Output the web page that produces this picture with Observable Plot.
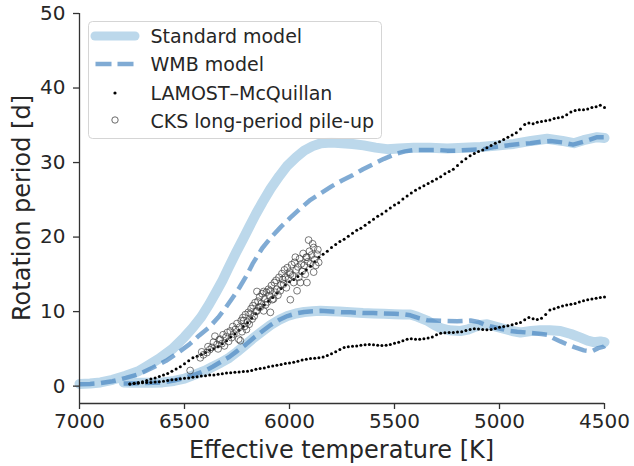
<!DOCTYPE html>
<html><head><meta charset="utf-8">
<script src="https://cdn.jsdelivr.net/npm/d3@7"></script>
<script src="https://cdn.jsdelivr.net/npm/@observablehq/plot@0.6"></script>
<style>html,body{margin:0;padding:0;background:#fff}</style>
</head><body><div id="chart"></div>
<script>
const xTicks = [7000, 6500, 6000, 5500, 5000, 4500];
const yTicks = [0, 10, 20, 30, 40, 50];

const stdUpperTeff = [7000,6950,6900,6843,6780,6720,6684,6620,6557,6500,6462,6420,6382,6350,6319,6290,6255,6220,6191,6160,6128,6090,6048,6010,5969,5930,5890,5850,5800,5750,5700,5647,5590,5535,5480,5409,5330,5249,5170,5091,5010,4932,4850,4773,4700,4646,4600,4535,4500];
const stdUpperP = [0.3,0.35,0.5,0.85,1.4,2.0,2.6,3.7,5.0,6.6,7.8,9.3,11.0,12.6,14.2,15.9,17.9,19.8,21.4,23.1,24.7,26.5,28.2,29.6,30.7,31.6,32.2,32.6,32.7,32.6,32.5,32.3,32.0,31.8,31.9,32.0,32.0,31.9,32.0,32.1,32.3,32.5,32.9,33.2,32.9,32.6,33.0,33.4,33.3];

const wmbUpperTeff = [7000,6950,6900,6843,6780,6716,6650,6588,6530,6477,6430,6382,6340,6302,6270,6239,6205,6176,6130,6090,6040,5996,5950,5900,5850,5800,5750,5700,5650,5600,5550,5500,5450,5400,5350,5297,5250,5202,5150,5075,5020,4964,4900,4853,4800,4757,4700,4650,4600,4535,4500];
const wmbUpperP = [0.25,0.3,0.4,0.65,1.1,1.6,2.5,3.4,4.5,5.6,6.8,7.9,9.2,10.6,11.9,13.2,14.8,16.4,18.5,19.9,21.4,22.6,23.8,25.0,25.9,26.8,27.6,28.3,29.1,29.8,30.5,31.1,31.5,31.7,31.7,31.7,31.6,31.6,31.7,31.8,32.1,32.3,32.5,32.6,32.8,32.9,32.7,32.4,32.8,33.4,33.4];

const stdLowerTeff = [6790,6750,6700,6650,6605,6550,6500,6445,6400,6366,6330,6287,6250,6207,6170,6128,6090,6048,6010,5969,5930,5890,5853,5800,5763,5710,5650,5600,5551,5500,5460,5424,5390,5345,5310,5281,5240,5186,5150,5123,5090,5059,5020,4980,4940,4900,4850,4805,4760,4710,4660,4614,4580,4551,4520,4500];
const stdLowerP = [0.5,0.45,0.45,0.45,0.5,0.7,1.0,1.6,2.1,2.6,3.1,3.8,4.6,5.6,6.5,7.4,8.2,8.9,9.4,9.75,9.95,10.05,10.1,10.05,10.0,9.9,9.8,9.75,9.7,9.65,9.6,9.6,9.3,8.8,8.2,7.8,7.5,7.4,7.6,7.9,8.2,8.3,8.0,7.7,7.4,7.2,7.4,7.5,7.5,7.4,7.0,6.5,6.1,5.9,6.0,5.9];

const wmbLowerTeff = [6790,6750,6700,6650,6605,6550,6500,6445,6400,6366,6330,6287,6250,6207,6170,6128,6090,6048,6010,5969,5930,5890,5853,5800,5750,5710,5650,5600,5551,5500,5460,5424,5380,5345,5313,5260,5202,5160,5138,5100,5075,5040,4996,4950,4916,4870,4837,4800,4773,4740,4710,4678,4640,4598,4570,4558,4530,4503,4500];
const wmbLowerP = [0.35,0.35,0.4,0.45,0.5,0.75,1.1,1.6,2.1,2.6,3.2,3.9,4.7,5.6,6.5,7.4,8.2,8.9,9.4,9.75,9.95,10.05,10.1,10.0,9.9,9.9,9.8,9.8,9.75,9.7,9.65,9.5,9.1,8.85,8.8,8.75,8.7,8.75,8.8,8.6,8.3,8.0,7.7,7.4,7.3,7.2,7.1,7.0,6.9,6.4,6.0,5.6,5.2,4.8,4.7,4.7,5.1,5.3,5.4];

const lamostTeff = [6760,6740,6720,6700,6680,6660,6640,6620,6600,6580,6560,6540,6520,6500,6480,6460,6440,6420,6400,6380,6360,6340,6320,6300,6280,6260,6240,6220,6200,6180,6160,6140,6120,6100,6080,6060,6040,6020,6000,5980,5960,5940,5920,5900,5880,5860,5840,5820,5800,5780,5760,5740,5720,5700,5680,5660,5640,5620,5600,5580,5560,5540,5520,5500,5480,5460,5440,5420,5400,5380,5360,5340,5320,5300,5280,5260,5240,5220,5200,5180,5160,5140,5120,5100,5080,5060,5040,5020,5000,4980,4960,4940,4920,4900,4880,4860,4840,4820,4800,4780,4760,4740,4720,4700,4680,4660,4640,4620,4600,4580,4560,4540,4520,4500];
const lamostUpperP = [0.3,0.4,0.5,0.6,0.75,0.95,1.1,1.3,1.5,1.7,2.0,2.3,2.6,3.0,3.4,3.8,4.0,4.25,4.5,4.8,5.0,5.3,5.7,6.1,6.6,7.0,7.5,8.0,8.5,9.1,9.7,10.4,10.9,11.4,11.9,12.5,13.1,13.6,14.0,14.3,14.7,15.1,15.6,16.1,16.7,17.3,17.7,18.1,18.6,19.0,19.4,19.7,20.1,20.5,20.9,21.2,21.6,22.0,22.4,22.8,23.1,23.5,23.9,24.3,24.6,25.1,25.5,25.9,26.3,26.6,26.9,27.2,27.5,27.8,28.1,28.5,28.8,29.1,29.6,30.1,30.5,30.9,31.2,31.5,31.7,32.0,32.3,32.6,32.8,33.1,33.4,33.7,34.0,34.5,35.1,35.3,35.2,35.4,35.5,35.6,35.7,35.9,36.0,36.1,36.4,36.8,37.0,37.1,37.1,37.2,37.4,37.5,37.7,37.4];
const lamostLowerP = [0.3,0.35,0.4,0.45,0.5,0.5,0.55,0.6,0.65,0.75,0.85,0.9,1.0,1.05,1.1,1.2,1.25,1.35,1.4,1.5,1.5,1.6,1.65,1.75,1.8,1.85,1.9,1.95,2.0,2.1,2.25,2.35,2.45,2.6,2.7,2.8,2.9,3.05,3.1,3.2,3.35,3.5,3.6,3.7,3.75,3.8,3.9,4.1,4.35,4.6,4.9,5.2,5.3,5.35,5.4,5.5,5.55,5.6,5.55,5.5,5.45,5.5,5.6,5.75,5.9,6.1,6.3,6.35,6.3,6.3,6.35,6.45,6.6,6.9,7.1,7.15,7.2,7.2,7.25,7.3,7.45,7.6,7.7,7.65,7.6,7.55,7.6,7.75,7.9,8.0,8.1,8.25,8.4,8.55,8.9,9.2,9.05,8.95,9.1,9.6,10.2,10.4,10.6,10.75,10.9,11.0,11.1,11.3,11.45,11.6,11.7,11.8,11.9,11.95];

const cksTeff = [6473,6425,6418,6410,6393,6388,6380,6369,6362,6355,6345,6340,6335,6330,6322,6316,6310,6302,6296,6290,6282,6276,6270,6265,6258,6250,6242,6238,6234,6230,6226,6222,6218,6214,6210,6205,6200,6196,6192,6187,6183,6178,6174,6168,6164,6160,6155,6155,6150,6146,6142,6139,6134,6130,6123,6123,6118,6114,6110,6105,6100,6096,6091,6091,6086,6082,6076,6072,6068,6064,6060,6055,6050,6044,6040,6036,6032,6028,6024,6020,6015,6010,6005,6000,5996,5996,5990,5985,5980,5976,5972,5968,5964,5960,5956,5952,5948,5944,5940,5935,5930,5925,5920,5917,5917,5912,5909,5905,5900,5895,5890,5885,5885,5880,5875,5869,5865,5861];
const cksP = [2.1,3.8,4.6,4.2,4.5,5.3,4.9,5.2,5.9,6.7,5.6,5.0,6.2,6.3,5.7,6.9,5.4,6.6,7.2,6.0,7.4,6.5,8.0,7.0,7.6,8.4,6.3,7.9,6.1,8.8,7.3,9.2,8.8,8.0,9.6,7.6,8.6,9.9,8.3,9.7,10.4,9.0,10.8,9.4,11.2,10.0,10.1,12.7,11.4,10.6,12.0,10.6,11.1,12.4,10.1,12.7,11.7,10.9,12.6,11.3,13.0,12.1,9.9,12.8,13.5,11.6,11.7,13.9,12.6,14.2,13.0,12.2,14.6,12.8,13.6,15.1,14.3,13.7,15.6,14.6,13.2,15.9,14.4,15.3,11.6,15.0,16.3,14.8,13.9,16.6,17.3,15.6,12.8,16.0,14.6,17.1,13.9,16.4,15.4,17.8,16.2,15.0,17.3,13.9,17.3,16.7,19.6,18.1,16.4,17.6,19.1,18.6,15.3,17.0,16.2,17.7,18.3,16.6];

const legendLabels = ["Standard model", "WMB model", "LAMOST\u2013McQuillan", "CKS long-period pile-up"];

const stdColor = "#bcd8eb";
const wmbColor = "#4a87c2";
const textColor = "#262626";
const spineColor = "#333333";

const rows = (xs, ys) => xs.map((t, i) => ({t, p: ys[i]}));
const stdUpper = rows(stdUpperTeff, stdUpperP);
const stdLower = rows(stdLowerTeff, stdLowerP);
const wmbUpper = rows(wmbUpperTeff, wmbUpperP);
const wmbLower = rows(wmbLowerTeff, wmbLowerP);
const lamost = rows(lamostTeff, lamostUpperP).concat(rows(lamostTeff, lamostLowerP));
const cks = rows(cksTeff, cksP);

const yMin = -2.33;
const chart = Plot.plot({
  width: 634, height: 466,
  marginLeft: 79, marginRight: 30, marginTop: 13, marginBottom: 63,
  style: {fontFamily: "DejaVu Sans", color: textColor, background: "white"},
  x: {domain: [7000, 4500]},
  y: {domain: [yMin, 50]},
  marks: [
    Plot.line(stdUpper, {x: "t", y: "p", stroke: stdColor, strokeWidth: 10, strokeLinecap: "round", strokeLinejoin: "round"}),
    Plot.line(stdLower, {x: "t", y: "p", stroke: stdColor, strokeWidth: 10, strokeLinecap: "round", strokeLinejoin: "round"}),
    Plot.line(wmbUpper, {x: "t", y: "p", stroke: wmbColor, strokeOpacity: 0.7, strokeWidth: 4.5, strokeDasharray: "15,6.5", strokeLinecap: "butt"}),
    Plot.line(wmbLower, {x: "t", y: "p", stroke: wmbColor, strokeOpacity: 0.7, strokeWidth: 4.5, strokeDasharray: "15,6.5", strokeLinecap: "butt"}),
    Plot.dot(lamost, {x: "t", y: "p", r: 1.5, fill: "black", stroke: "none"}),
    Plot.dot(cks, {x: "t", y: "p", r: 3.4, fill: "none", stroke: "#3a3a3a", strokeWidth: 0.8, strokeOpacity: 0.85}),
    Plot.ruleX([7000], {stroke: spineColor, strokeWidth: 1.3}),
    Plot.ruleY([yMin], {stroke: spineColor, strokeWidth: 1.3}),
    Plot.axisX({ticks: xTicks, tickFormat: d => String(d), tickSize: 6, tickPadding: 4, fontSize: 20, label: null, stroke: spineColor, strokeWidth: 1.3, fill: textColor}),
    Plot.axisY({ticks: yTicks, tickFormat: d => String(d), tickSize: 6, tickPadding: 8, fontSize: 20, label: null, stroke: spineColor, strokeWidth: 1.3, fill: textColor})
  ]
});
document.getElementById("chart").appendChild(chart);

const svg = d3.select(chart);
svg.append("text").attr("x", 341.6).attr("y", 458).attr("text-anchor", "middle")
  .attr("font-size", 24).attr("fill", textColor).attr("font-family", "DejaVu Sans")
  .text("Effective temperature [K]");
svg.append("text").attr("transform", "translate(30,208) rotate(-90)").attr("text-anchor", "middle")
  .attr("font-size", 24).attr("fill", textColor).attr("font-family", "DejaVu Sans")
  .text("Rotation period [d]");

const lg = svg.append("g").attr("font-family", "DejaVu Sans").attr("font-size", 19).attr("fill", textColor).attr("text-anchor", "start");
lg.append("rect").attr("x", 88.5).attr("y", 21.5).attr("width", 293).attr("height", 117).attr("rx", 4)
  .attr("fill", "white").attr("fill-opacity", 0.8).attr("stroke", "#d5d5d5").attr("stroke-width", 1);
lg.append("line").attr("x1", 95).attr("x2", 135).attr("y1", 36).attr("y2", 36)
  .attr("stroke", stdColor).attr("stroke-width", 9).attr("stroke-linecap", "round");
lg.append("line").attr("x1", 95.5).attr("x2", 134.5).attr("y1", 64).attr("y2", 64)
  .attr("stroke", wmbColor).attr("stroke-opacity", 0.7).attr("stroke-width", 4.5).attr("stroke-dasharray", "16,6");
lg.append("circle").attr("cx", 115).attr("cy", 93).attr("r", 1.6).attr("fill", "black");
lg.append("circle").attr("cx", 115).attr("cy", 120).attr("r", 3.2).attr("fill", "none").attr("stroke", "#444").attr("stroke-width", 0.8);
const baselines = [43, 71, 100, 128];
legendLabels.forEach((s, i) => lg.append("text").attr("x", 150.5).attr("y", baselines[i]).attr("text-anchor", "start").text(s));
</script></body></html>
